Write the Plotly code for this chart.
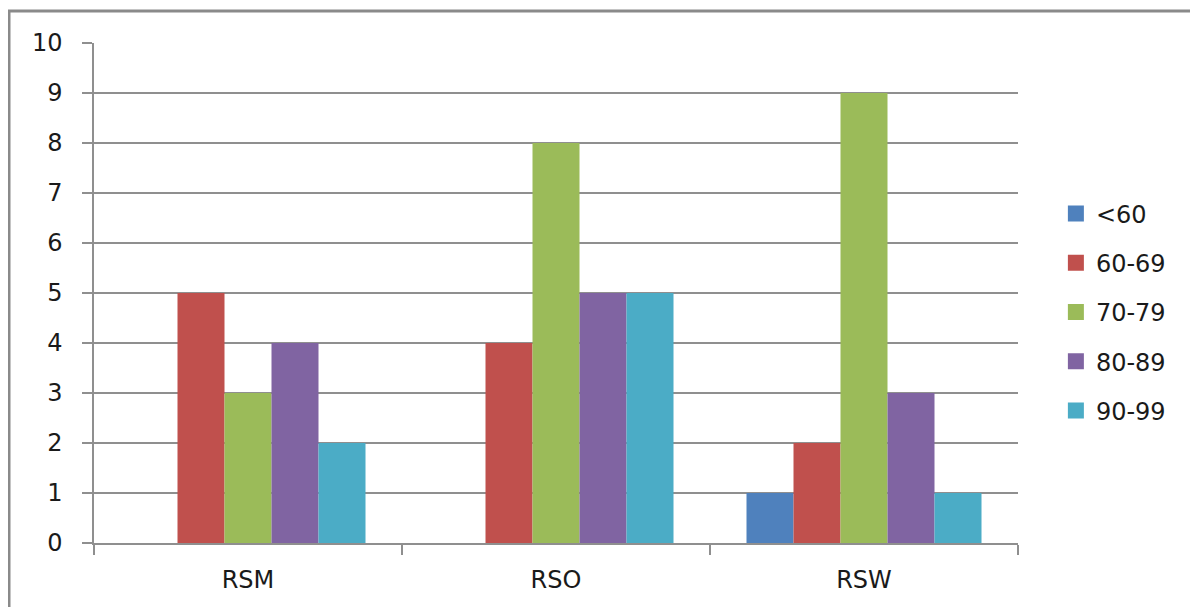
import plotly.graph_objects as go

categories = ["RSM", "RSO", "RSW"]
series_names = ["<60", "60-69", "70-79", "80-89", "90-99"]
lt60 = [0, 0, 1]
s60_69 = [5, 4, 2]
s70_79 = [3, 8, 9]
s80_89 = [4, 5, 3]
s90_99 = [2, 5, 1]
series_values = [lt60, s60_69, s70_79, s80_89, s90_99]
colors = ["#4F81BD", "#C0504D", "#9BBB59", "#8064A2", "#4BACC6"]
y_ticks = list(range(0, 11))

FONT = "DejaVu Sans"
TXT = "#1a1a1a"
GRID = "#8f8f8f"

fig = go.Figure()
for i, (name, vals, col) in enumerate(zip(series_names, series_values, colors)):
    fig.add_trace(go.Bar(
        x=categories, y=vals, name=name, marker_color=col,
        marker_line_width=0, legendgroup=f"g{i}", showlegend=False,
    ))
    # legend entry with a larger square swatch
    fig.add_trace(go.Scatter(
        x=[None], y=[None], mode="markers", name=name,
        marker=dict(symbol="square", size=16, color=col),
        legendgroup=f"g{i}", showlegend=True,
    ))

W, H = 1198, 607
OFF = 8  # page body margin
L, R, T, B = 86, 188, 35, 72
PW, PH = W - L - R, H - T - B

fig.update_layout(
    width=W, height=H,
    margin=dict(l=L, r=R, t=T, b=B, pad=0),
    paper_bgcolor="white", plot_bgcolor="white",
    barmode="group", bargap=0.237, bargroupgap=0,
    font=dict(family=FONT, size=24, color=TXT),
    showlegend=True,
    legend=dict(
        x=1.041, y=0.462, xanchor="left", yanchor="middle",
        font=dict(family=FONT, size=24, color=TXT),
        tracegroupgap=15, bgcolor="rgba(0,0,0,0)", itemsizing="trace",
    ),
    xaxis=dict(
        type="category", range=[-0.5, 2.5],
        showline=True, linecolor=GRID, linewidth=1.5,
        ticks="outside", tickson="boundaries", ticklen=10,
        tickcolor=GRID, tickwidth=1.5, ticklabelstandoff=14,
        showgrid=False, tickfont=dict(size=24, color=TXT),
    ),
    yaxis=dict(
        range=[0, 10], tickvals=y_ticks,
        showline=True, linecolor=GRID, linewidth=1.5,
        ticks="outside", ticklen=10, tickcolor=GRID, tickwidth=1.5,
        showgrid=True, gridcolor=GRID, gridwidth=1.5,
        zeroline=False, ticklabelstandoff=15,
        tickfont=dict(size=24, color=TXT),
    ),
    shapes=[
        dict(type="line", xref="paper", yref="paper",
             x0=(0 - L) / PW, x1=(W - L) / PW,
             y0=(H - B - 3) / PH, y1=(H - B - 3) / PH,
             line=dict(color="#8a8a8a", width=3)),
        dict(type="line", xref="paper", yref="paper",
             x0=(1 - L) / PW, x1=(1 - L) / PW,
             y0=(H - B - 3) / PH, y1=-B / PH,
             line=dict(color="#8a8a8a", width=3)),
    ],
)

fig.write_html("out.html")
